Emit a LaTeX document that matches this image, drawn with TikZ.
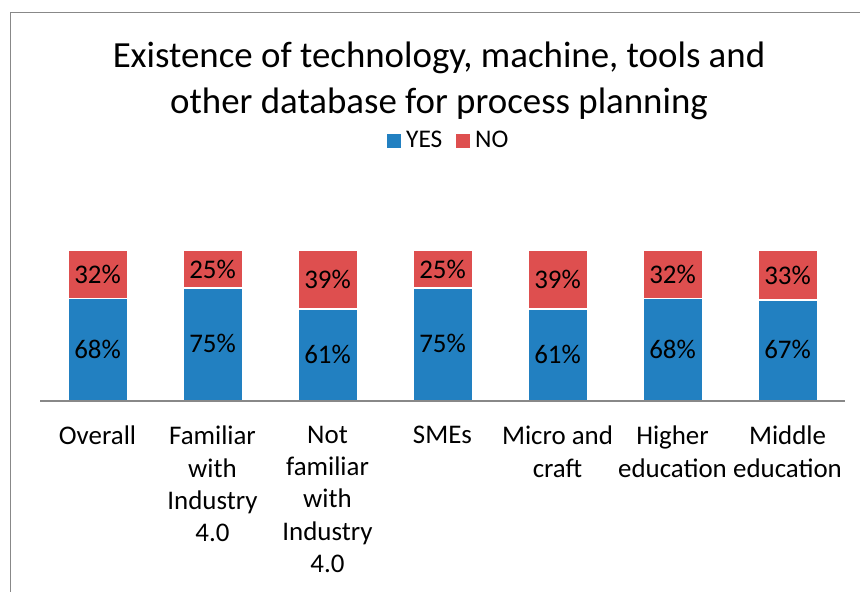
\documentclass[tikz,border=0pt]{standalone}
\usepackage{fontspec}
\setmainfont{Carlito}
\definecolor{yesblue}{RGB}{34,128,193}
\definecolor{nored}{RGB}{222,79,79}
\definecolor{framegrey}{RGB}{136,136,136}
\tikzset{
  segbase/.style={draw=white, line width=0.4bp, inner sep=0pt, minimum width=59bp, anchor=south,
    font=\fontsize{27}{32}\selectfont, text=black},
  yesbar/.style={segbase, fill=yesblue},
  nobar/.style={segbase, fill=nored},
  catlab/.style={inner sep=0pt, anchor=north, align=center, font=\fontsize{27}{32.3}\selectfont},
  legsq/.style={fill=#1, inner sep=0pt, minimum size=14bp},
  legtxt/.style={inner sep=0pt, anchor=base west, font=\fontsize{25.5}{30}\selectfont},
  titletext/.style={inner sep=0pt, align=center, font=\fontsize{37}{46}\selectfont}
}
\begin{document}
\begin{tikzpicture}[x=1bp,y=-1bp]
\useasboundingbox (0,0) rectangle (860,592);
\clip (0,0) rectangle (860,592);
\fill[white] (0,0) rectangle (860,592);
% frame
\draw[framegrey, line width=1.5bp] (10.5,600) -- (10.5,12.5) -- (870,12.5);
% title
\node[titletext, anchor=north] (title) at (439,42) {Existence of technology, machine, tools and\\other database for process planning};
% legend
\node[legsq=yesblue] (lyes) at (394,141) {};
\node[legtxt] (lyest) at (406,148) {YES};
\node[legsq=nored] (lno) at (463,141) {};
\node[legtxt] (lnot) at (475,148) {NO};
% axis
\coordinate (axl) at (40,400.5);
\coordinate (axr) at (845,400.5);
% bars
\foreach \i/\yv/\nv in {0/68/32,1/75/25,2/61/39,3/75/25,4/61/39,5/68/32,6/67/33}{
  \pgfmathsetmacro{\xc}{97.5+115*\i}
  \node[yesbar, minimum height={1.49bp*\yv}] (y\i) at (\xc,400) {\yv\%};
  \node[nobar, minimum height={1.49bp*\nv}] (n\i) at (y\i.north) {\nv\%};
}
\draw[framegrey, line width=2bp] (axl) -- (axr);
% category labels
\node[catlab] (c0) at (97.5,426) {Overall};
\node[catlab] (c1) at (212.5,426) {Familiar\\with\\Industry\\4.0};
\node[catlab] (c2) at (327.5,426) {Not\\familiar\\with\\Industry\\4.0};
\node[catlab] (c3) at (442.5,426) {SMEs};
\node[catlab] (c4) at (557.5,426) {Micro and\\craft};
\node[catlab] (c5) at (672.5,426) {Higher\\education};
\node[catlab] (c6) at (787.5,426) {Middle\\education};
\end{tikzpicture}
\end{document}
